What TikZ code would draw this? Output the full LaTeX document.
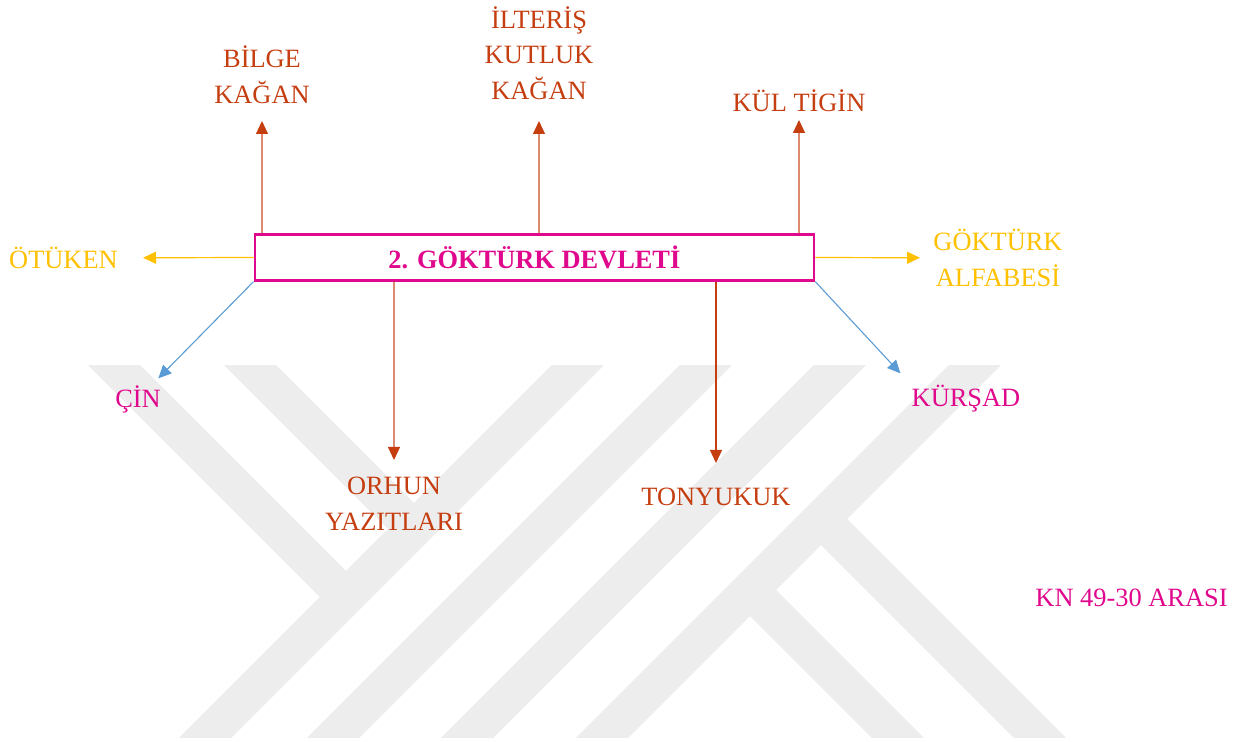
\documentclass[tikz,border=0pt]{standalone}
\usepackage{fontspec}
\setmainfont{Liberation Serif}
\usepackage{tikz}
\usetikzlibrary{arrows.meta,positioning,calc}
\definecolor{gkred}{RGB}{197,62,16}
\definecolor{gkgold}{RGB}{255,192,0}
\definecolor{gkpink}{RGB}{224,8,140}
\definecolor{gkblue}{RGB}{91,155,213}
\definecolor{wmgray}{RGB}{237,237,237}

\begin{document}
\begin{tikzpicture}[x=0.5pt,y=-0.5pt,
  lbl/.style={font=\fontsize{13.2}{17.8}\selectfont, align=center},
  wmark/.style={draw=wmgray, line width=18.5pt},
  redarr/.style={draw=gkred!60, line width=0.55pt, -{Triangle[length=6.5pt,width=6pt,color=gkred]}},
  darkarr/.style={redarr, draw=gkred},
  goldarr/.style={draw=gkgold, line width=0.6pt, -{Triangle[length=6.5pt,width=6pt]}},
  bluearr/.style={draw=gkblue, line width=0.55pt, -{Triangle[length=6.5pt,width=6pt]}}]
\tikzstyle{every node}+=[inner sep=0pt]
\useasboundingbox (0,0) rectangle (1248,742);
% watermark in the background
\begin{scope}
\clip (0,366) rectangle (1248,738);
\draw [wmark] (79,330) -- (346,597);
\draw [wmark] (215,330) -- (414,529);
\draw [wmark] (613,330) -- (163,780);
\draw [wmark] (741,330) -- (291,780);
\draw [wmark] (875,330) -- (425,780);
\draw [wmark] (1010,330) -- (560,780);
\draw [wmark] (750,590) -- (940,780);
\draw [wmark] (821,519) -- (1082,780);
\end{scope}
% main box
\node [draw=gkpink, line width=1.4pt, minimum width=279.5pt, minimum height=22.75pt,
  font=\fontsize{13.2}{16}\selectfont\bfseries, text=gkpink] (box) at (534.4,257.5) {2. GÖKTÜRK DEVLETİ};
% labels
\node [lbl, text=gkred] (bilge) at (262,75) {BİLGE\\KAĞAN};
\node [lbl, text=gkred] (ilteris) at (539,53) {İLTERİŞ\\KUTLUK\\KAĞAN};
\node [lbl, text=gkred] (kul) at (799,101) {KÜL TİGİN};
\node [lbl, text=gkgold] (otuken) at (63.5,258) {ÖTÜKEN};
\node [lbl, text=gkgold] (alfabe) at (998,258) {GÖKTÜRK\\ALFABESİ};
\node [lbl, text=gkpink] (cin) at (138,399) {ÇİN};
\node [lbl, text=gkpink] (kursad) at (966,399) {KÜRŞAD};
\node [lbl, text=gkred] (orhun) at (394,504) {ORHUN\\YAZITLARI};
\node [lbl, text=gkred] (tony) at (716,497) {TONYUKUK};
\node [lbl, text=gkpink] (kn) at (1131.5,598) {KN 49-30 ARASI};
% arrows
\draw [redarr, shorten >=23pt] (box.north -| bilge) -- (bilge.center);
\draw [redarr, shorten >=34pt] (box.north -| ilteris) -- (ilteris.center);
\draw [redarr, shorten >=9.5pt] (box.north -| kul) -- (kul.center);
\draw [goldarr, shorten >=39.75pt] (box.west) -- (otuken.center);
\draw [goldarr, shorten >=39pt] (box.east) -- (alfabe.center);
\draw [bluearr, shorten >=14.5pt] (box.south west) -- (cin.center);
\draw [bluearr, shorten >=8pt] (box.south east) -- (kursad.north west);
\draw [redarr, shorten >=22pt] (box.south -| orhun) -- (orhun.center);
\draw [darkarr, shorten >=17pt] (box.south -| tony) -- (tony.center);
\end{tikzpicture}
\end{document}
